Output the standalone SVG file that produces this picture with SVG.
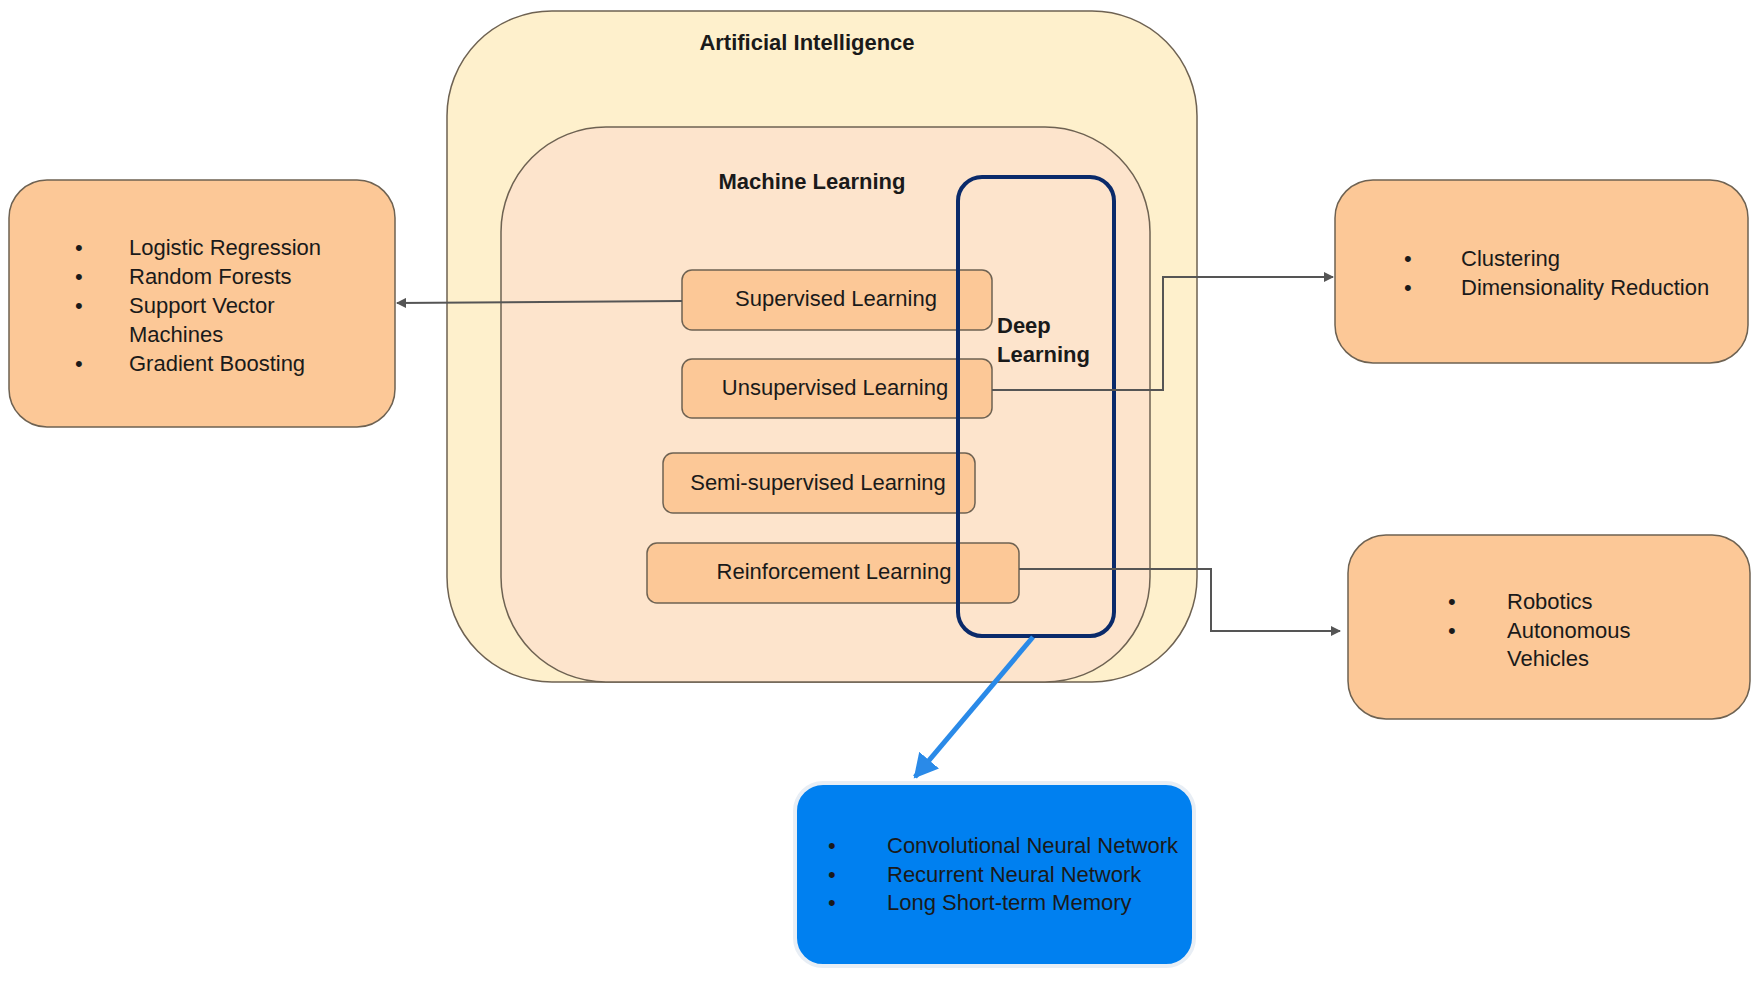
<svg xmlns="http://www.w3.org/2000/svg" width="1761" height="984" viewBox="0 0 1761 984">
<defs>
<marker id="ah" markerWidth="10" markerHeight="10" refX="9" refY="5" orient="auto" markerUnits="userSpaceOnUse"><path d="M0,0 L10,5 L0,10 z" fill="#555"/></marker>
<marker id="bh" markerWidth="26" markerHeight="26" refX="22" refY="13" orient="auto" markerUnits="userSpaceOnUse"><path d="M0,0 L24,13 L0,26 z" fill="#2a8ae8"/></marker>
</defs>
<style>
text{font-family:"Liberation Sans",Arial,sans-serif;fill:#1a1a1a;font-size:22px}
.b{font-weight:bold}
.box{fill:#fcc897;stroke:#6e6252;stroke-width:1.5}
.con{fill:none;stroke:#555;stroke-width:2}
</style>
<rect width="1761" height="984" fill="#fff"/>
<g id="ai"><rect x="447" y="11" width="750" height="671" rx="105" fill="#fef0cc" stroke="#6e6252" stroke-width="1.5"/><text x="807" y="50" text-anchor="middle" class="b">Artificial Intelligence</text></g>
<g id="ml"><rect x="501" y="127" width="649" height="555" rx="105" fill="#fde4cc" stroke="#6e6252" stroke-width="1.5"/><text x="812" y="189" text-anchor="middle" class="b" fill="#333">Machine Learning</text></g>
<g id="supervised"><rect class="box" x="682" y="270" width="310" height="60" rx="10"/><text x="836" y="306" text-anchor="middle">Supervised Learning</text></g>
<g id="unsupervised"><rect class="box" x="682" y="359" width="310" height="59" rx="10"/><text x="835" y="395" text-anchor="middle">Unsupervised Learning</text></g>
<g id="semi"><rect class="box" x="663" y="453" width="312" height="60" rx="10"/><text x="818" y="490" text-anchor="middle">Semi-supervised Learning</text></g>
<g id="reinforcement"><rect class="box" x="647" y="543" width="372" height="60" rx="10"/><text x="834" y="579" text-anchor="middle">Reinforcement Learning</text></g>
<g id="deep"><rect x="958" y="177" width="156" height="459" rx="24" fill="none" stroke="#0a2a6a" stroke-width="4"/><text x="997" y="333" class="b">Deep</text><text x="997" y="362" class="b">Learning</text></g>
<g id="left"><rect class="box" x="9" y="180" width="386" height="247" rx="38"/>
<g font-size="22"><text x="75" y="255">•</text><text x="129" y="255">Logistic Regression</text>
<text x="75" y="284">•</text><text x="129" y="284">Random Forests</text>
<text x="75" y="313">•</text><text x="129" y="313">Support Vector</text>
<text x="129" y="342">Machines</text>
<text x="75" y="371">•</text><text x="129" y="371">Gradient Boosting</text></g></g>
<g id="right1"><rect class="box" x="1335" y="180" width="413" height="183" rx="38"/>
<text x="1404" y="266">•</text><text x="1461" y="266">Clustering</text>
<text x="1404" y="295">•</text><text x="1461" y="295">Dimensionality Reduction</text></g>
<g id="right2"><rect class="box" x="1348" y="535" width="402" height="184" rx="38"/>
<text x="1448" y="609">•</text><text x="1507" y="609">Robotics</text>
<text x="1448" y="638">•</text><text x="1507" y="638">Autonomous</text>
<text x="1507" y="666">Vehicles</text></g>
<g id="dlbox"><rect x="795" y="783" width="399" height="183" rx="28" fill="#0080f0" stroke="#e8eef5" stroke-width="4"/>
<text x="828" y="853">•</text><text x="887" y="853">Convolutional Neural Network</text>
<text x="828" y="882">•</text><text x="887" y="882">Recurrent Neural Network</text>
<text x="828" y="910">•</text><text x="887" y="910">Long Short-term Memory</text></g>
<g id="connectors">
<path class="con" d="M682,301 L397,303" marker-end="url(#ah)"/>
<path class="con" d="M992,390 L1163,390 L1163,277 L1333,277" marker-end="url(#ah)"/>
<path class="con" d="M1019,569 L1211,569 L1211,631 L1340,631" marker-end="url(#ah)"/>
<path d="M1033,637 L915,777" fill="none" stroke="#2a8ae8" stroke-width="5" marker-end="url(#bh)"/>
</g>
</svg>
